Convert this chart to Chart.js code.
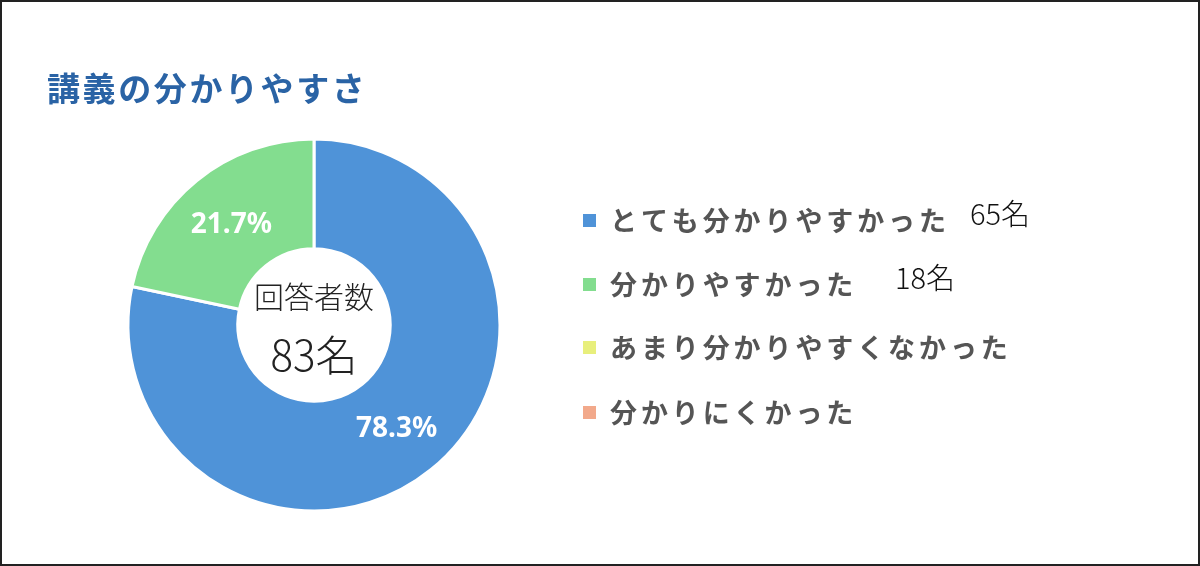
<!DOCTYPE html>
<html lang="ja">
<head>
<meta charset="utf-8">
<title>講義の分かりやすさ</title>
<script src="https://cdn.jsdelivr.net/npm/chart.js@4"></script>
<style>
  html, body { margin: 0; padding: 0; background: #fff; }
  #wrap { width: 1200px; height: 566px; position: relative; }
</style>
</head>
<body>
<div id="wrap"><canvas id="surveyChart" width="1200" height="566"></canvas></div>
<script>
const chartTitle = '講義の分かりやすさ';
const categories = ['とても分かりやすかった', '分かりやすかった', 'あまり分かりやすくなかった', '分かりにくかった'];
const counts = [65, 18, 0, 0];
const colors = ['#4f93d8', '#83dd8f', '#e8ef7c', '#f2a98b'];
const centerLabel = '回答者数';

const total = counts.reduce((a, b) => a + b, 0);

// draws spaced text one char at a time
function spacedText(ctx, text, x, y, gap) {
    for (const ch of text) {
        ctx.fillText(ch, x, y);
        x += ctx.measureText(ch).width + gap;
    }
    return x;
}

const extrasPlugin = {
    id: 'extras',
    afterDraw(chart) {
        const ctx = chart.ctx;
        const meta = chart.getDatasetMeta(0);
        ctx.save();

        // title
        ctx.fillStyle = '#2a63a5';
        ctx.font = 'bold 33px "Noto Sans CJK JP"';
        ctx.textBaseline = 'middle';
        ctx.textAlign = 'left';
        spacedText(ctx, chartTitle, 47, 88, 2.6);

        // percent labels on the arcs
        ctx.fillStyle = '#ffffff';
        ctx.font = 'bold 28px "Noto Sans", "Noto Sans CJK JP"';
        ctx.textAlign = 'center';
        meta.data.forEach((arc, i) => {
            if (!counts[i]) return;
            const p = arc.tooltipPosition();
            const pct = (counts[i] / total * 100).toFixed(1) + '%';
            ctx.fillText(pct, p.x, p.y + 2);
        });

        // center text
        const c = meta.data[0];
        ctx.fillStyle = '#222';
        ctx.font = '300 30px "Noto Sans CJK JP"';
        ctx.fillText(centerLabel, c.x, c.y - 28);
        ctx.font = '300 42px "Noto Sans CJK JP"';
        ctx.fillText(total + '名', c.x, c.y + 30);

        // legend
        ctx.textAlign = 'left';
        const rowY = [221, 285, 348, 413];
        const countX = [970, 895];
        categories.forEach((label, i) => {
            const y = rowY[i];
            ctx.fillStyle = colors[i];
            ctx.fillRect(583, y - 7, 13, 13);
            ctx.fillStyle = '#555';
            ctx.font = 'bold 27px "Noto Sans CJK JP"';
            spacedText(ctx, label, 610, y, 3.9);
            if (counts[i] && countX[i]) {
                ctx.fillStyle = '#111';
                ctx.font = '300 29px "Noto Sans CJK JP"';
                ctx.fillText(counts[i] + '名', countX[i], y - 7);
            }
        });

        // outer frame
        ctx.strokeStyle = '#222';
        ctx.lineWidth = 2;
        ctx.strokeRect(1, 1, chart.width - 2, chart.height - 2);
        ctx.restore();
    }
};

new Chart(document.getElementById('surveyChart').getContext('2d'), {
    type: 'doughnut',
    data: {
        labels: categories,
        datasets: [{
            data: counts,
            backgroundColor: colors,
            borderColor: '#ffffff',
            borderWidth: 3,
            radius: 186,
            cutout: '41%'
        }]
    },
    options: {
        responsive: false,
        animation: false,
        layout: {
            padding: { left: 128, right: 700, top: 139, bottom: 55 }
        },
        plugins: {
            legend: { display: false },
            tooltip: { enabled: false }
        }
    },
    plugins: [extrasPlugin]
});
</script>
</body>
</html>
